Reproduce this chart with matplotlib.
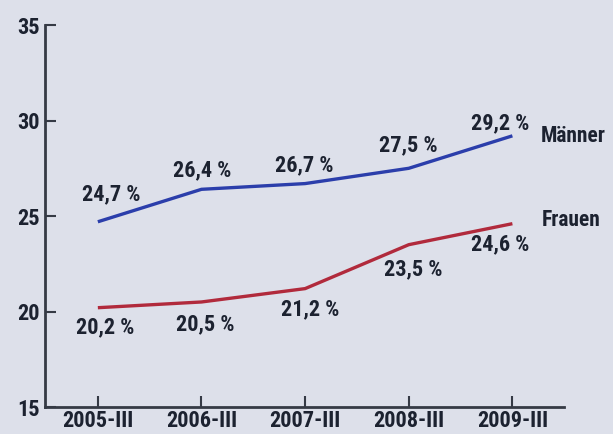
import matplotlib.pyplot as plt

# data
quarters = ['2005-III', '2006-III', '2007-III', '2008-III', '2009-III']
maenner = [24.7, 26.4, 26.7, 27.5, 29.2]
frauen = [20.2, 20.5, 21.2, 23.5, 24.6]
maenner_labels = ['24,7 %', '26,4 %', '26,7 %', '27,5 %', '29,2 %']
frauen_labels = ['20,2 %', '20,5 %', '21,2 %', '23,5 %', '24,6 %']
yticks = [15, 20, 25, 30, 35]

plt.rcParams['font.family'] = ['Roboto Condensed', 'Archivo Narrow', 'PT Sans Narrow',
                               'Liberation Sans Narrow', 'DejaVu Sans']
plt.rcParams['font.weight'] = 'bold'

bg = '#dde0ea'
txt = '#1c2230'
axc = '#353a45'

fig = plt.figure(figsize=(6.13, 4.34), dpi=100, facecolor=bg)
ax = fig.add_axes([0.0734, 0.0622, 0.847, 0.880])
ax.set_facecolor(bg)

x = list(range(len(quarters)))
ax.plot(x, maenner, color='#2b3eab', lw=2.4, solid_capstyle='butt')
ax.plot(x, frauen, color='#b12a3c', lw=2.4, solid_capstyle='butt')

# value labels (pixel offsets)
m_off = [(13, 27), (1, 19), (-1, 18), (0, 23), (-12, 13)]
f_off = [(7, -20), (4, -22), (5, -21), (4, -25), (-12, -21)]
for i in x:
    ax.annotate(maenner_labels[i], (i, maenner[i]), xytext=m_off[i],
                textcoords='offset pixels', ha='center', va='center',
                fontsize=16, color=txt, fontweight='bold')
    ax.annotate(frauen_labels[i], (i, frauen[i]), xytext=f_off[i],
                textcoords='offset pixels', ha='center', va='center',
                fontsize=16, color=txt, fontweight='bold')

ax.annotate('Männer', (4, maenner[-1]), xytext=(28, 0), textcoords='offset pixels',
            ha='left', va='center', fontsize=15.5, color=txt, fontweight='bold',
            annotation_clip=False)
ax.annotate('Frauen', (4, frauen[-1]), xytext=(29, 4), textcoords='offset pixels',
            ha='left', va='center', fontsize=15.5, color=txt, fontweight='bold',
            annotation_clip=False)

ax.set_xlim(-0.51, 4.5)
ax.set_ylim(15, 35)
ax.set_xticks(x)
ax.set_xticklabels(quarters)
ax.set_yticks(yticks)

for s in ['top', 'right']:
    ax.spines[s].set_visible(False)
for s in ['left', 'bottom']:
    ax.spines[s].set_linewidth(2)
    ax.spines[s].set_color(axc)

ax.tick_params(axis='y', direction='in', length=8, width=1.5, color=axc,
               labelsize=16, labelcolor=txt, pad=4)
ax.tick_params(axis='x', direction='in', length=8, width=1.5, color=axc,
               labelsize=16, labelcolor=txt, pad=2)
for lab in ax.get_xticklabels() + ax.get_yticklabels():
    lab.set_fontweight('bold')

plt.savefig('out.png', dpi=100, facecolor=bg)
